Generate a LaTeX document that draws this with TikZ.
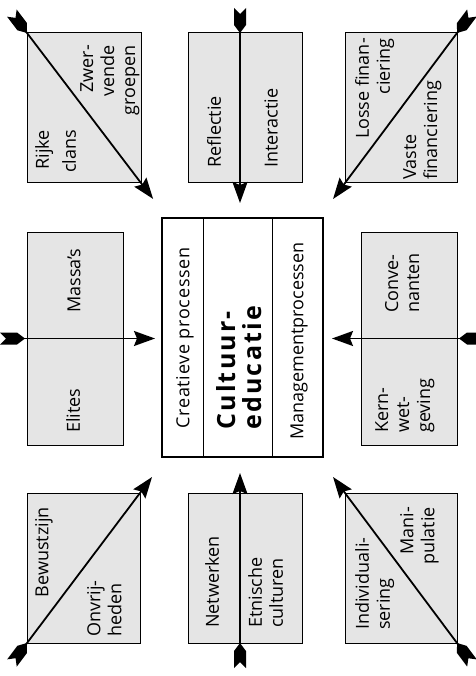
\documentclass[tikz,border=0pt]{standalone}
\usepackage{fontspec}
\setmainfont{Open Sans}
\usetikzlibrary{arrows.meta,calc}
\definecolor{cellgray}{RGB}{229,229,229}
% feathered tail, notch at the path end, point towards the line
\pgfdeclarearrow{
  name = Fletch,
  setup code = {
    \pgfarrowssettipend{0pt}
    \pgfarrowssetbackend{-25pt}
    \pgfarrowssetlineend{-12pt}
    \pgfarrowshullpoint{0pt}{6pt}
    \pgfarrowshullpoint{0pt}{-6pt}
    \pgfarrowshullpoint{-25pt}{0pt}
  },
  drawing code = {
    \pgfpathmoveto{\pgfqpoint{0pt}{6pt}}
    \pgfpathlineto{\pgfqpoint{-17pt}{6pt}}
    \pgfpathlineto{\pgfqpoint{-25pt}{0pt}}
    \pgfpathlineto{\pgfqpoint{-17pt}{-6pt}}
    \pgfpathlineto{\pgfqpoint{0pt}{-6pt}}
    \pgfpathlineto{\pgfqpoint{-6pt}{0pt}}
    \pgfpathclose
    \pgfusepathqfill
  },
}
\tikzset{
  cell/.style={draw, fill=cellgray, line width=1pt, inner sep=0pt, outer sep=0pt},
  lbl/.style={rotate=90, inner sep=0pt, font=\fontsize{18}{21}\selectfont},
  duo/.style={line width=1.8pt, {Fletch}-{Stealth[length=21pt,width=15pt,inset=3pt]}},
}
\begin{document}
\begin{tikzpicture}[x=1pt,y=-1pt]
\useasboundingbox (0,0) rectangle (475,676);
% boxes
\node[cell, minimum width=114pt, minimum height=150pt] (rk) at (84,108) {};
\node[cell, minimum width=114pt, minimum height=150pt] (rf) at (245,108) {};
\node[cell, minimum width=112pt, minimum height=150pt] (lo) at (401,108) {};
\node[cell, minimum width=96pt, minimum height=213pt] (me) at (75,338.5) {};
\node[cell, minimum width=96pt, minimum height=213pt] (ko) at (409,338.5) {};
\node[cell, minimum width=113pt, minimum height=150pt] (be) at (83.5,568) {};
\node[cell, minimum width=114pt, minimum height=150pt] (ne) at (245,568) {};
\node[cell, minimum width=112pt, minimum height=150pt] (ind) at (401,568) {};
\node[draw, fill=white, line width=2pt, inner sep=0pt, outer sep=0pt,
  minimum width=161pt, minimum height=239pt] (ce) at (242.5,337.5) {};
\draw[line width=1pt] ($(ce.north west)+(41,0)$) -- ($(ce.south west)+(41,0)$);
\draw[line width=1pt] ($(ce.north west)+(110,0)$) -- ($(ce.south west)+(110,0)$);
\coordinate (rfa) at (240,33);
\coordinate (rfb) at (240,183);
\coordinate (nea) at (240,493);
\coordinate (neb) at (240,643);
% arrows
\draw[duo] ($(rk.north west)!-25pt!(rk.south east)$) -- ($(rk.south east)!-20pt!(rk.north west)$);
\draw[duo] ($(rfa)!-25pt!(rfb)$) -- ($(rfb)!-20pt!(rfa)$);
\draw[duo] ($(lo.north east)!-25pt!(lo.south west)$) -- ($(lo.south west)!-20pt!(lo.north east)$);
\draw[duo] ($(me.west)!-27pt!(me.east)$) -- ($(me.east)!-32pt!(me.west)$);
\draw[duo] ($(ko.east)!-27pt!(ko.west)$) -- ($(ko.west)!-29pt!(ko.east)$);
\draw[duo] ($(be.south west)!-25pt!(be.north east)$) -- ($(be.north east)!-20pt!(be.south west)$);
\draw[duo] ($(neb)!-25pt!(nea)$) -- ($(nea)!-20pt!(neb)$);
\draw[duo] ($(ind.south east)!-25pt!(ind.north west)$) -- ($(ind.north west)!-20pt!(ind.south east)$);
% labels
\node[lbl, font=\fontsize{18}{27}\selectfont, align=right, anchor=north east] (t1) at (35,130) {Rijke\\clans};
\node[lbl, align=right, anchor=north east] (t2) at (80,45) {Zwer-\\vende\\groepen};
\node[lbl, anchor=west] (t3) at (214,168) {Reflectie};
\node[lbl, anchor=west] (t4) at (271,168) {Interactie};
\node[lbl, align=right, anchor=north east] (t5) at (355,38) {Losse finan-\\ciering};
\node[lbl, align=left, anchor=north west] (t6) at (403,180) {Vaste\\financiering};
\node[lbl, anchor=west] (t7) at (74,313) {Massa’s};
\node[lbl, anchor=west] (t8) at (73,433) {Elites};
\node[lbl, align=left, anchor=north west] (t9) at (385,313) {Conve-\\nanten};
\node[lbl, align=left, anchor=north west] (t10) at (375,433) {Kern-\\wet-\\geving};
\node[lbl, font={\fontsize{18}{21}\selectfont\addfontfeatures{LetterSpace=4}}] (t11) at (185,338) {Creatieve processen};
\node[lbl, font={\fontsize{25}{26}\selectfont\bfseries\addfontfeatures{LetterSpace=9}}, align=left, anchor=north west] (t12) at (216,430) {Cultuur-\\educatie};
\node[lbl] (t13) at (299,341) {Managementprocessen};
\node[lbl, anchor=north east] (t14) at (35,507) {Bewustzijn};
\node[lbl, align=left, anchor=north west] (t15) at (87,637) {Onvrij-\\heden};
\node[lbl, anchor=west] (t16) at (212,628) {Netwerken};
\node[lbl, align=left, anchor=north west] (t17) at (248,628) {Etnische\\culturen};
\node[lbl, align=left, anchor=north west] (t18) at (355,630) {Individuali-\\sering};
\node[lbl, align=right, anchor=north east] (t19) at (400,507) {Mani-\\pulatie};
\end{tikzpicture}
\end{document}
